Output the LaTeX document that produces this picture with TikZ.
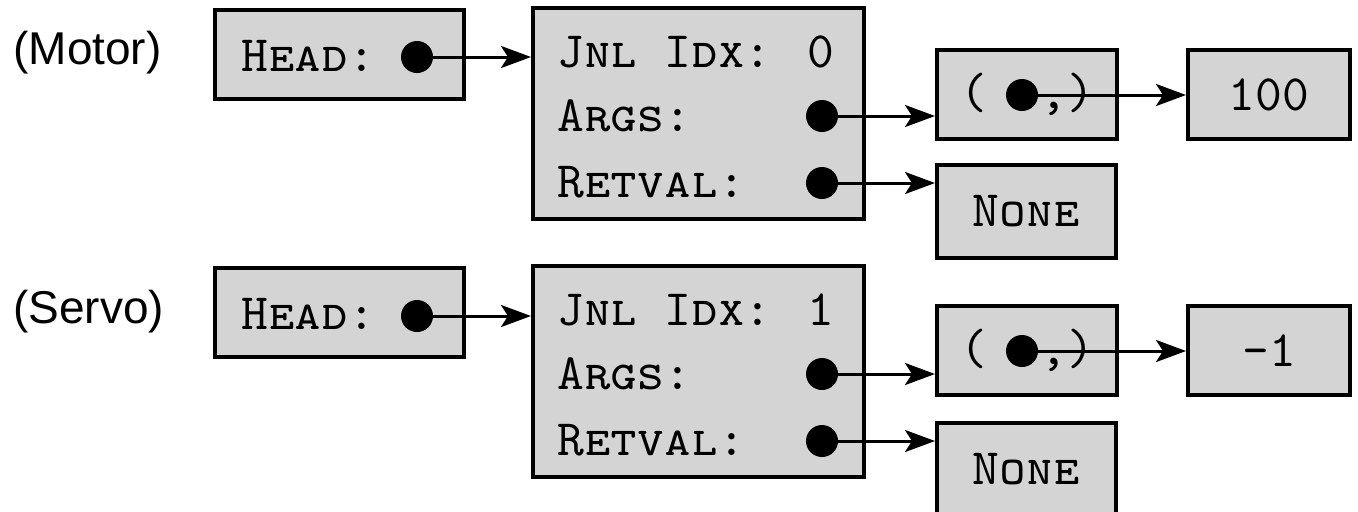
\documentclass[tikz,border=0pt]{standalone}
\usepackage{fontspec}
\usepackage{tikz}
\usetikzlibrary{
    arrows.meta
}
\newfontfamily\labelfont{Liberation Sans}
\definecolor{boxgray}{gray}{0.83}
\tikzset{
    box/.style={draw, fill=boxgray, line width=2pt, inner sep=0pt,
        font=\fontsize{25.5}{30}\selectfont\ttfamily\scshape},
    txt/.style={font=\fontsize{25.5}{30}\selectfont\ttfamily\scshape, inner sep=0pt},
    ptr/.style={circle, fill=black, inner sep=0pt, minimum size=16pt},
    arr/.style={-{Stealth[length=15pt,width=11pt,inset=3.5pt]}, line width=1.5pt},
    lbl/.style={font=\fontsize{23}{28}\selectfont\labelfont, inner sep=0pt}
}

\begin{document}
\begin{tikzpicture}[x=0.5pt,y=-0.5pt]
    \useasboundingbox (0,0) rectangle (1358,511);

    % Motor
    \node[lbl, anchor=west] (m-lbl) at (13,53) {(Motor)};
    \node[box, minimum width=124.5pt, minimum height=44.5pt] (m-head) at (339.5,54.5) {};
    \node[txt, anchor=west] (m-htxt) at (241,56) {Head:};
    \node[ptr] (m-hd) at (417,57) {};

    \node[box, minimum width=165.5pt, minimum height=105.5pt] (m-jnl) at (698.5,113.5) {};
    \node[txt, anchor=west] (m-idx) at (557,52) {Jnl Idx: 0};
    \node[txt, anchor=west] (m-args) at (557,116) {Args:};
    \node[txt, anchor=west] (m-ret) at (557,182) {Retval:};
    \node[ptr] (m-ad) at (822,116) {};
    \node[ptr] (m-rd) at (822,183) {};

    \node[box, minimum width=90pt, minimum height=44.5pt] (m-tup) at (1027,94.5) {(\ \ ,)};
    \node[ptr] (m-td) at (1022,95) {};
    \node[box, minimum width=81pt, minimum height=44.5pt] (m-val) at (1269,94.5) {100};
    \node[box, minimum width=89.5pt, minimum height=46.5pt] (m-none) at (1026.5,211.5) {None};

    \draw[arr] (m-hd.center) -- (m-hd -| m-jnl.west);
    \draw[arr] (m-ad.center) -- (m-ad -| m-tup.west);
    \draw[arr] (m-rd.center) -- (m-rd -| m-none.west);
    \draw[arr] (m-td.center) -- (m-td -| m-val.west);

    % Servo
    \node[lbl, anchor=west] (s-lbl) at (13,312) {(Servo)};
    \node[box, minimum width=124.5pt, minimum height=44.5pt] (s-head) at (339.5,312.5) {};
    \node[txt, anchor=west] (s-htxt) at (241,314) {Head:};
    \node[ptr] (s-hd) at (417,316) {};

    \node[box, minimum width=165.5pt, minimum height=105.5pt] (s-jnl) at (698.5,371.5) {};
    \node[txt, anchor=west] (s-idx) at (557,310) {Jnl Idx: 1};
    \node[txt, anchor=west] (s-args) at (557,374) {Args:};
    \node[txt, anchor=west] (s-ret) at (557,440) {Retval:};
    \node[ptr] (s-ad) at (822,374) {};
    \node[ptr] (s-rd) at (822,441) {};

    \node[box, minimum width=90pt, minimum height=44.5pt] (s-tup) at (1027,350.5) {(\ \ ,)};
    \node[ptr] (s-td) at (1022,351) {};
    \node[box, minimum width=81pt, minimum height=44.5pt] (s-val) at (1269,350.5) {-1};
    \node[box, minimum width=89.5pt, minimum height=46.5pt] (s-none) at (1026.5,469.5) {None};

    \draw[arr] (s-hd.center) -- (s-hd -| s-jnl.west);
    \draw[arr] (s-ad.center) -- (s-ad -| s-tup.west);
    \draw[arr] (s-rd.center) -- (s-rd -| s-none.west);
    \draw[arr] (s-td.center) -- (s-td -| s-val.west);
\end{tikzpicture}
\end{document}
